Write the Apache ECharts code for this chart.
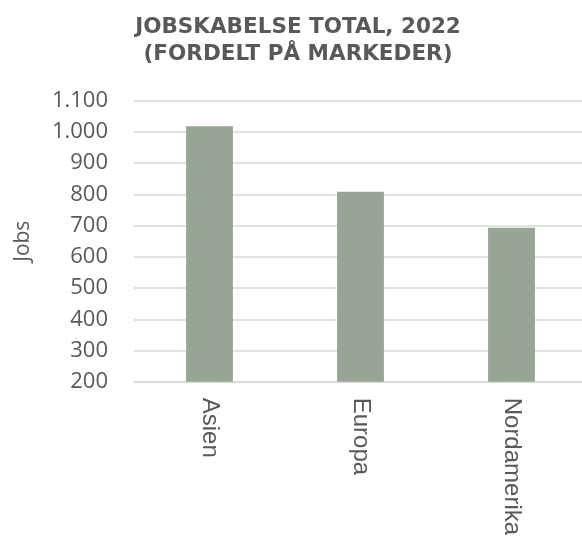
<!DOCTYPE html>
<html>
<head>
<meta charset="utf-8">
<script src="https://cdn.jsdelivr.net/npm/echarts@6/dist/echarts.min.js"></script>
<style>
html,body{margin:0;padding:0;background:#fff;overflow:hidden;}
#chart{width:590px;height:547px;}
</style>
</head>
<body>
<div id="chart"></div>
<script>
const categories = ['Asien', 'Europa', 'Nordamerika'];
const jobs = [1018, 808, 693];
const yMin = 200, yMax = 1100, yStep = 100;

const chart = echarts.init(document.getElementById('chart'), null, {renderer: 'canvas'});
chart.setOption({
  animation: false,
  backgroundColor: '#ffffff',
  title: {
    text: 'JOBSKABELSE TOTAL, 2022\n(FORDELT PÅ MARKEDER)',
    left: 293,
    textAlign: 'center',
    top: 9,
    textStyle: {
      fontFamily: 'DejaVu Sans',
      fontWeight: 'bold',
      fontSize: 21.5,
      lineHeight: 27,
      color: '#595959'
    }
  },
  grid: {left: 134, right: 3, top: 100.7, height: 281, containLabel: false},
  xAxis: {
    type: 'category',
    data: categories,
    axisLine: {show: true, lineStyle: {color: '#d9d9d9', width: 1.5}},
    axisTick: {show: false},
    axisLabel: {
      rotate: -90,
      margin: 16,
      fontFamily: 'Liberation Sans',
      fontSize: 24,
      color: '#595959'
    }
  },
  yAxis: {
    type: 'value',
    min: yMin,
    max: yMax,
    interval: yStep,
    name: 'Jobs',
    nameLocation: 'middle',
    nameGap: 100,
    nameRotate: 90,
    nameTextStyle: {fontFamily: 'Open Sans', fontSize: 21, color: '#595959'},
    axisLine: {show: false},
    axisTick: {show: false},
    splitLine: {lineStyle: {color: '#d9d9d9', width: 1.5}},
    axisLabel: {
      margin: 26,
      fontFamily: 'Open Sans',
      fontSize: 22,
      color: '#595959',
      formatter: v => v.toString().replace(/\B(?=(\d{3})+(?!\d))/g, '.')
    }
  },
  series: [{
    type: 'bar',
    data: jobs,
    barWidth: '31%',
    itemStyle: {color: '#97a594'}
  }]
});
</script>
</body>
</html>
